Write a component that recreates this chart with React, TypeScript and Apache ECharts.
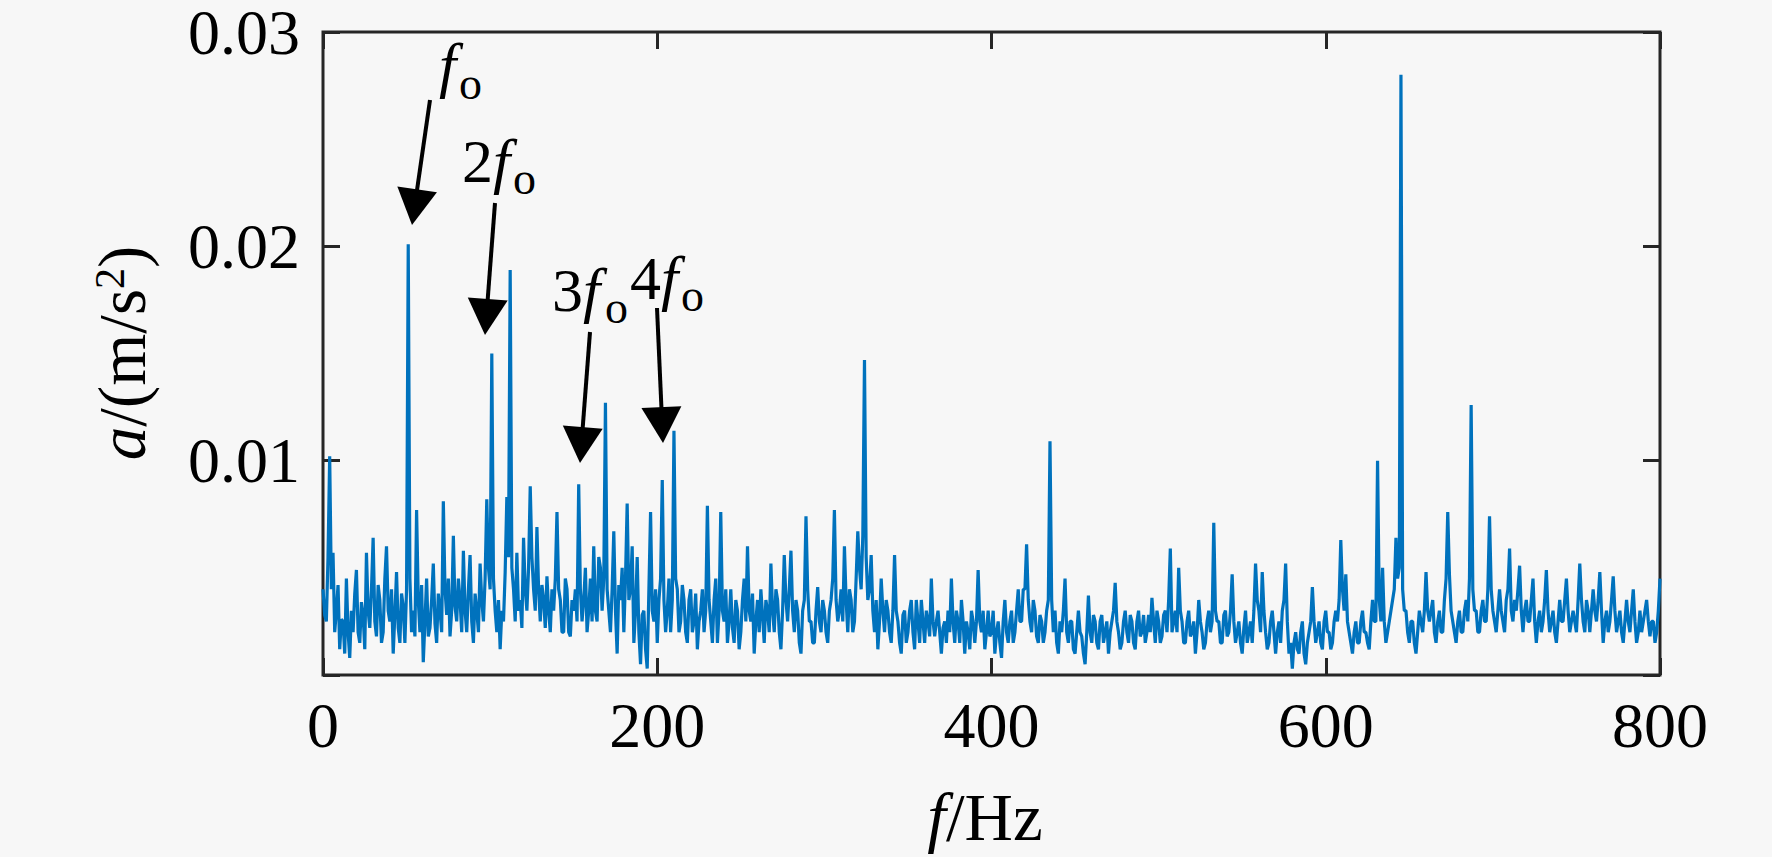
import React, { useEffect, useRef } from "react";
import * as echarts from "echarts";

// Spectrum amplitude, in 10^-3 m/s^2, sampled every 1 Hz from 0 to 800 Hz
const STEP_HZ = 1;
const amp0to99 = [
  4.0, 2.8, 2.5, 5.5, 10.2, 4.0, 5.7, 2.0, 3.0, 4.2, 1.2, 2.6, 2.5, 1.0, 4.5, 2.0, 0.8, 3.0, 2.0, 3.8,
  4.9, 2.0, 1.5, 3.4, 2.8, 1.2, 5.7, 3.0, 2.2, 4.0, 6.4, 2.5, 1.8, 4.2, 3.5, 1.5, 2.0, 4.5, 6.0, 3.0,
  2.5, 4.0, 1.0, 2.8, 4.8, 2.2, 1.5, 3.8, 3.2, 1.5, 4.0, 20.1, 4.5, 2.0, 3.0, 1.8, 7.7, 3.5, 2.0, 4.2,
  0.6, 2.5, 4.5, 1.8, 2.2, 3.5, 5.2, 2.4, 1.5, 3.8, 3.0, 2.0, 8.1, 4.0, 2.8, 4.5, 1.8, 3.0, 6.5, 3.2,
  2.5, 4.5, 3.5, 2.0, 5.8, 3.0, 2.0, 4.0, 5.6, 2.5, 1.5, 3.8, 3.0, 2.0, 5.2, 3.5, 2.5, 4.5, 8.2, 5.0,
];
const amp100to199 = [
  4.0, 15.0, 4.5, 3.0, 2.0, 3.5, 1.2, 3.0, 2.5, 4.8, 8.3, 5.5, 18.9, 5.0, 4.0, 2.5, 5.7, 3.0, 3.5, 2.2,
  6.4, 4.0, 3.0, 5.0, 8.8, 5.5, 4.0, 3.0, 6.9, 4.0, 2.5, 4.2, 3.5, 2.2, 4.6, 3.0, 2.0, 4.0, 3.0, 4.5,
  7.6, 4.0, 3.5, 2.0, 2.0, 4.5, 4.0, 2.0, 1.8, 3.5, 3.0, 4.0, 2.5, 8.9, 4.0, 2.5, 3.5, 5.0, 2.0, 3.0,
  4.5, 2.5, 6.0, 3.0, 2.5, 5.5, 5.0, 3.0, 4.5, 12.7, 4.0, 3.0, 2.0, 4.0, 6.7, 3.0, 1.0, 4.2, 3.5, 5.0,
  2.0, 4.5, 8.0, 3.5, 4.0, 6.0, 1.5, 3.0, 5.5, 2.0, 0.5, 2.8, 3.0, 1.2, 0.3, 4.0, 7.6, 3.0, 2.5, 4.0,
];
const amp200to299 = [
  1.5, 3.5, 4.5, 9.1, 3.5, 2.0, 3.0, 4.5, 2.0, 3.5, 11.4, 4.5, 4.0, 2.0, 2.5, 4.2, 3.5, 2.0, 1.5, 3.5,
  4.0, 2.0, 2.5, 3.8, 1.2, 2.5, 3.0, 4.0, 2.0, 3.0, 7.9, 3.5, 2.5, 1.5, 3.5, 4.5, 1.5, 3.0, 7.6, 3.0,
  2.5, 4.0, 1.5, 2.5, 4.0, 2.2, 1.5, 3.5, 3.0, 1.2, 2.0, 3.5, 4.5, 2.5, 6.0, 3.0, 2.5, 3.8, 1.0, 2.5,
  3.5, 2.0, 4.0, 2.8, 1.5, 3.5, 3.0, 2.0, 5.2, 3.0, 2.0, 4.0, 3.5, 2.0, 1.2, 3.0, 5.6, 3.5, 2.5, 4.0,
  5.8, 3.0, 2.0, 3.5, 3.0, 1.5, 1.0, 3.0, 3.5, 7.4, 4.0, 2.5, 2.5, 1.5, 1.5, 3.0, 4.1, 2.5, 2.0, 3.5,
];
const amp300to399 = [
  3.0, 2.0, 1.5, 3.0, 3.5, 4.5, 7.7, 3.5, 2.5, 3.0, 4.0, 2.5, 6.0, 3.5, 2.0, 4.0, 3.5, 2.0, 2.5, 4.5,
  6.7, 5.0, 4.0, 6.5, 14.7, 5.5, 3.5, 4.0, 5.6, 3.0, 2.0, 3.5, 1.2, 2.5, 4.5, 3.0, 2.0, 3.5, 3.0, 2.0,
  1.5, 3.0, 5.6, 3.0, 2.5, 1.5, 1.0, 2.8, 3.0, 1.5, 2.0, 3.0, 3.5, 2.0, 1.2, 3.5, 2.5, 1.5, 3.5, 2.5,
  1.5, 3.0, 2.5, 1.8, 4.5, 2.5, 1.8, 2.5, 3.0, 2.0, 1.0, 2.2, 2.5, 1.5, 3.0, 2.0, 4.5, 2.5, 1.5, 3.0,
  2.5, 1.5, 3.5, 2.5, 1.0, 2.5, 2.0, 1.2, 3.0, 2.5, 1.5, 2.5, 4.9, 2.5, 2.0, 3.0, 1.2, 2.0, 3.0, 1.8,
];
const amp400to499 = [
  2.0, 3.0, 1.0, 2.0, 2.5, 1.5, 0.8, 2.5, 3.5, 2.0, 1.5, 2.5, 3.0, 1.5, 2.0, 3.0, 4.0, 2.5, 2.5, 4.0,
  4.0, 6.1, 3.5, 2.5, 2.0, 3.5, 3.0, 1.8, 1.5, 2.8, 2.5, 1.5, 2.0, 3.0, 3.5, 10.9, 3.5, 2.0, 3.0, 1.5,
  1.0, 2.5, 2.0, 3.0, 4.5, 2.0, 1.5, 2.5, 2.5, 1.2, 1.0, 2.0, 3.0, 2.0, 1.8, 1.0, 0.5, 2.0, 3.7, 2.0,
  1.5, 2.8, 2.5, 1.5, 1.2, 2.5, 2.8, 1.5, 2.0, 2.5, 1.0, 2.0, 2.5, 3.0, 4.3, 2.5, 2.0, 1.2, 1.5, 2.5,
  3.0, 2.0, 1.5, 2.8, 2.5, 1.5, 1.2, 2.5, 3.0, 1.8, 2.0, 2.8, 1.5, 2.0, 2.8, 2.0, 3.6, 2.5, 1.5, 3.0,
];
const amp500to599 = [
  2.5, 1.5, 1.8, 2.8, 3.0, 2.0, 3.5, 5.9, 2.0, 2.5, 3.0, 2.0, 5.0, 3.0, 2.5, 1.5, 1.5, 2.5, 3.0, 1.8,
  2.0, 2.5, 1.0, 2.0, 3.5, 2.5, 2.0, 1.2, 1.5, 2.5, 3.0, 2.0, 2.5, 7.1, 3.0, 2.5, 2.5, 1.5, 1.5, 2.8,
  3.0, 1.8, 2.0, 3.0, 4.7, 2.5, 1.5, 2.0, 2.5, 1.5, 1.0, 2.2, 3.0, 1.5, 2.0, 2.5, 1.5, 3.0, 5.2, 3.5,
  3.0, 2.0, 4.8, 3.0, 2.0, 1.2, 1.5, 2.5, 3.0, 2.0, 1.0, 2.0, 2.5, 1.5, 3.0, 3.5, 5.2, 2.5, 1.0, 1.5,
  0.3, 1.5, 2.0, 1.2, 1.0, 2.0, 2.5, 1.0, 0.5, 1.5, 2.0, 2.5, 4.1, 2.5, 1.5, 2.0, 2.5, 1.5, 1.2, 2.5,
];
const amp600to699 = [
  3.0, 2.0, 2.0, 1.2, 1.5, 2.5, 3.0, 2.5, 3.5, 6.3, 4.0, 3.0, 4.7, 2.5, 2.0, 1.5, 1.0, 2.0, 2.5, 1.5,
  1.5, 2.5, 3.0, 2.0, 2.0, 1.5, 1.2, 2.5, 3.5, 2.5, 2.5, 10.0, 3.5, 2.5, 5.0, 2.5, 1.5, 2.0, 2.5, 3.0,
  3.5, 4.0, 6.4, 4.5, 5.0, 28.0, 4.0, 3.0, 3.0, 2.0, 1.5, 2.5, 2.5, 1.5, 1.0, 2.0, 3.0, 2.5, 2.0, 3.0,
  4.8, 3.0, 2.5, 3.0, 3.5, 2.0, 1.5, 2.5, 3.0, 2.0, 2.0, 3.5, 4.5, 7.6, 4.7, 3.0, 2.5, 2.0, 1.5, 2.5,
  3.0, 2.0, 2.0, 3.0, 3.5, 2.5, 4.5, 12.6, 4.0, 3.0, 3.0, 2.0, 2.0, 3.0, 3.5, 2.5, 2.5, 4.0, 7.4, 4.0,
];
const amp700to800 = [
  3.0, 2.5, 2.0, 3.0, 4.0, 3.0, 2.5, 2.0, 3.5, 4.0, 5.9, 3.0, 2.5, 3.5, 3.0, 4.0, 5.1, 3.0, 2.0, 3.0,
  3.5, 2.5, 2.5, 3.5, 4.5, 2.5, 1.5, 2.5, 3.0, 2.0, 2.5, 3.5, 4.9, 3.0, 2.0, 2.5, 3.0, 2.0, 1.5, 2.5,
  3.5, 2.5, 2.5, 3.5, 4.5, 3.0, 2.0, 2.5, 3.0, 2.5, 2.0, 3.5, 5.2, 3.5, 2.5, 2.0, 3.5, 3.0, 2.0, 3.0,
  4.0, 3.0, 2.5, 3.5, 4.8, 3.0, 1.5, 2.5, 3.0, 2.0, 2.5, 3.5, 4.6, 3.0, 2.0, 2.5, 3.0, 2.0, 1.5, 2.5,
  3.5, 2.5, 2.0, 3.0, 4.0, 2.5, 1.5, 2.0, 3.0, 2.0, 2.5, 3.0, 3.5, 2.5, 1.8, 2.5, 2.5, 1.5, 2.0, 3.0,
  4.5,
];

const X_MIN = 0;
const X_MAX = 800;
const X_INTERVAL = 200;
const Y_MIN = 0;
const Y_MAX = 30; // 10^-3 m/s^2
const Y_INTERVAL = 10;
const yTickLabels: Record<number, string> = { 10: "0.01", 20: "0.02", 30: "0.03" };

// harmonic annotations: digit prefix (empty for f_o)
const harmonicPrefixes = ["", "2", "3", "4"];

const FONT = "'Liberation Serif', 'Times New Roman', serif";
const AX = "#262626";
const BG = "#f7f7f7";
const LINE = "#0072BD";

export default function App() {
  const ref = useRef<HTMLDivElement>(null);

  useEffect(() => {
    if (!ref.current) return;
    const chart = echarts.init(ref.current, undefined, { renderer: "svg" });

    const amps = [
      ...amp0to99, ...amp100to199, ...amp200to299, ...amp300to399,
      ...amp400to499, ...amp500to599, ...amp600to699, ...amp700to800,
    ];
    const data = amps.map((v, i) => [i * STEP_HZ, v]);

    // layout of annotations (pixels): main text origin/baseline, subscript origin/baseline, arrow tail/tip
    const ann = [
      { mx: 439, mb: 84, ox: 459, ob: 97, tail: [430, 100], tip: [412, 225] },
      { mx: 462, mb: 180, ox: 513, ob: 192, tail: [495, 203], tip: [485, 335] },
      { mx: 552, mb: 309, ox: 605, ob: 321, tail: [590, 332], tip: [580, 463] },
      { mx: 630, mb: 297, ox: 681, ob: 309, tail: [657, 308], tip: [663, 443] },
    ];
    const MAIN_FS = 62;
    const SUB_FS = 46;
    const HEAD_LEN = 36;
    const HEAD_HALF = 20;

    const graphic: any[] = [];
    ann.forEach((a, k) => {
      const prefix = harmonicPrefixes[k];
      graphic.push({
        type: "text",
        x: a.mx,
        y: a.mb - 0.3 * MAIN_FS,
        style: {
          text: (prefix ? `{n|${prefix}}` : "") + "{i|f}",
          rich: {
            n: { fontFamily: FONT, fontSize: MAIN_FS, fill: "#000" },
            i: { fontFamily: FONT, fontSize: MAIN_FS, fontStyle: "italic", fill: "#000" },
          },
          align: "left",
          verticalAlign: "middle",
        },
      });
      graphic.push({
        type: "text",
        x: a.ox,
        y: a.ob - 0.3 * SUB_FS,
        style: {
          text: "o",
          fontFamily: FONT,
          fontSize: SUB_FS,
          fill: "#000",
          align: "left",
          verticalAlign: "middle",
        },
      });
      const dx = a.tip[0] - a.tail[0];
      const dy = a.tip[1] - a.tail[1];
      const len = Math.sqrt(dx * dx + dy * dy);
      const ux = dx / len;
      const uy = dy / len;
      const bx = a.tip[0] - ux * HEAD_LEN;
      const by = a.tip[1] - uy * HEAD_LEN;
      graphic.push({
        type: "line",
        shape: { x1: a.tail[0], y1: a.tail[1], x2: bx + ux * 4, y2: by + uy * 4 },
        style: { stroke: "#000", lineWidth: 4 },
      });
      graphic.push({
        type: "polygon",
        shape: {
          points: [
            [a.tip[0], a.tip[1]],
            [bx - uy * HEAD_HALF, by + ux * HEAD_HALF],
            [bx + uy * HEAD_HALF, by - ux * HEAD_HALF],
          ],
        },
        style: { fill: "#000" },
      });
    });

    // axis titles
    graphic.push({
      type: "text",
      x: 985,
      y: 817,
      style: {
        text: "{i|f}{r|/Hz}",
        rich: {
          i: { fontFamily: FONT, fontSize: 67, fontStyle: "italic", fill: "#000" },
          r: { fontFamily: FONT, fontSize: 67, fill: "#000" },
        },
        align: "center",
        verticalAlign: "middle",
      },
    });
    graphic.push({
      type: "text",
      x: 122,
      y: 353,
      rotation: Math.PI / 2,
      style: {
        text: "{i|a}{r|/(m/s}{s|2}{r|)}",
        rich: {
          i: { fontFamily: FONT, fontSize: 67, fontStyle: "italic", fill: "#000", lineHeight: 67 },
          r: { fontFamily: FONT, fontSize: 67, fill: "#000", lineHeight: 67 },
          s: { fontFamily: FONT, fontSize: 42, fill: "#000", verticalAlign: "top", lineHeight: 42 },
        },
        align: "center",
        verticalAlign: "middle",
      },
    });

    const mkTick = () => ({ inside: true, length: 17, lineStyle: { color: AX, width: 3 } });
    const hiddenLine = () => ({ show: false, onZero: false });

    chart.setOption({
      animation: false,
      backgroundColor: BG,
      grid: {
        left: 323,
        right: 112,
        top: 28,
        bottom: 182,
        show: true,
        borderColor: AX,
        borderWidth: 3,
        backgroundColor: "transparent",
      },
      xAxis: [
        {
          type: "value",
          min: X_MIN,
          max: X_MAX,
          interval: X_INTERVAL,
          position: "bottom",
          axisLine: hiddenLine(),
          axisTick: mkTick(),
          splitLine: { show: false },
          axisLabel: { margin: 18, fontFamily: FONT, fontSize: 64, color: "#000" },
        },
        {
          type: "value",
          min: X_MIN,
          max: X_MAX,
          interval: X_INTERVAL,
          position: "top",
          axisLine: hiddenLine(),
          axisTick: mkTick(),
          splitLine: { show: false },
          axisLabel: { show: false },
        },
      ],
      yAxis: [
        {
          type: "value",
          min: Y_MIN,
          max: Y_MAX,
          interval: Y_INTERVAL,
          position: "left",
          axisLine: hiddenLine(),
          axisTick: mkTick(),
          splitLine: { show: false },
          axisLabel: {
            margin: 23,
            fontFamily: FONT,
            fontSize: 64,
            color: "#000",
            formatter: (v: number) => yTickLabels[Math.round(v)] ?? "",
          },
        },
        {
          type: "value",
          min: Y_MIN,
          max: Y_MAX,
          interval: Y_INTERVAL,
          position: "right",
          axisLine: hiddenLine(),
          axisTick: mkTick(),
          splitLine: { show: false },
          axisLabel: { show: false },
        },
      ],
      series: [
        {
          type: "line",
          xAxisIndex: 0,
          yAxisIndex: 0,
          data,
          symbol: "none",
          silent: true,
          clip: true,
          lineStyle: { color: LINE, width: 3.2 },
        },
      ],
      graphic,
    });

    return () => chart.dispose();
  }, []);

  return (
    <div
      ref={ref}
      style={{ position: "absolute", left: 0, top: 0, width: 1772, height: 857, background: BG }}
    />
  );
}
